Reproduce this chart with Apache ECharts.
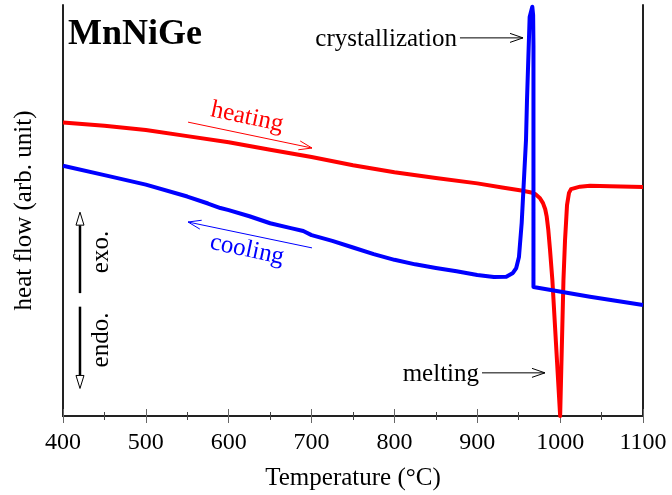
<!DOCTYPE html>
<html>
<head>
<meta charset="utf-8">
<script src="https://cdn.jsdelivr.net/npm/echarts@6/dist/echarts.min.js"></script>
<style>
  html, body { margin: 0; padding: 0; background: #fff; }
  #chart { width: 672px; height: 495px; }
</style>
</head>
<body>
<div id="chart"></div>
<script>
// DSC traces of MnNiGe (heat flow in arbitrary units, 0..100)
const heatingTemp = [400, 450, 500, 550, 600, 650, 700, 750, 800, 850, 900, 930, 955, 965, 970,
  975.7, 979.3, 982, 983.8, 985.7, 987.8, 990.6, 1000, 1004, 1005.9, 1007.1, 1008.3, 1010.7,
  1013.1, 1015.5, 1024, 1036, 1060, 1100];
const heatingFlow = [71.4, 70.6, 69.6, 68.1, 66.6, 64.8, 63.0, 61.0, 59.3, 57.9, 56.6, 55.6, 54.8, 54.4, 54.0,
  53.0, 51.8, 50.3, 48.5, 45.3, 40.4, 33.1, 0, 33.1, 42.8, 47.0, 51.3, 54.3,
  55.2, 55.5, 55.8, 56.0, 55.9, 55.7];

// cooling run, recorded from high to low temperature
const coolingTemp = [1100, 1036, 967.8, 967.8, 967.4, 966.4, 965.6, 964.6, 963.2, 960, 958.8,
  953.6, 950.3, 947, 943, 935, 920, 900, 875, 850, 825, 800, 775, 750, 725, 700, 690, 675,
  650, 625, 600, 590, 575, 550, 500, 450, 400];
const coolingFlow = [27.0, 29.0, 31.4, 90.0, 97.5, 99.6, 100, 99.2, 97.1, 76.9, 67.2,
  47.0, 38.7, 36.0, 34.8, 33.9, 33.8, 34.3, 35.2, 36.0, 36.9, 38.0, 39.4, 41.0, 42.6, 44.0, 45.0, 45.7,
  46.9, 48.6, 50.1, 50.6, 51.7, 53.4, 56.3, 58.6, 60.9];

const tempTicks = [400, 500, 600, 700, 800, 900, 1000, 1100];

const SERIF = '"Liberation Serif", "DejaVu Serif", serif';

const zip = (xs, ys) => xs.map((x, i) => [x, ys[i]]);

const chart = echarts.init(document.getElementById('chart'), null, { renderer: 'canvas' });

const axisLine = { show: true, lineStyle: { color: '#222', width: 2 } };
const ticks = { show: true, inside: true, length: 7, lineStyle: { color: '#666', width: 1 } };
const minor = { show: true, splitNumber: 2, length: 4, lineStyle: { color: '#444', width: 1 } };

chart.setOption({
  animation: false,
  backgroundColor: '#fff',
  grid: { left: 63, right: 29, top: 5, bottom: 79, containLabel: false, outerBoundsMode: 'none' },
  xAxis: [
    {
      type: 'value', position: 'bottom',
      min: tempTicks[0], max: tempTicks[tempTicks.length - 1], interval: 100,
      axisLine: axisLine, axisTick: ticks, minorTick: minor,
      splitLine: { show: false }, minorSplitLine: { show: false },
      axisLabel: { fontFamily: SERIF, fontSize: 24, color: '#000', margin: 15,
        formatter: (v) => String(v) },
      name: 'Temperature (°C)', nameLocation: 'middle', nameGap: 50,
      nameTextStyle: { fontFamily: SERIF, fontSize: 25, color: '#000' }
    },
    {
      type: 'value', position: 'top',
      min: tempTicks[0], max: tempTicks[tempTicks.length - 1], interval: 100,
      axisLine: axisLine, axisTick: ticks, minorTick: minor,
      splitLine: { show: false }, minorSplitLine: { show: false },
      axisLabel: { show: false }
    }
  ],
  yAxis: [
    {
      type: 'value', position: 'left', min: 0, max: 100,
      axisLine: axisLine, axisTick: { show: false }, axisLabel: { show: false },
      splitLine: { show: false },
      name: 'heat flow (arb. unit)', nameLocation: 'middle', nameGap: 26, nameRotate: 90,
      nameTextStyle: { fontFamily: SERIF, fontSize: 25, color: '#000' }
    },
    {
      type: 'value', position: 'right', min: 0, max: 100,
      axisLine: axisLine, axisTick: { show: false }, axisLabel: { show: false },
      splitLine: { show: false }
    }
  ],
  series: [
    {
      name: 'heating', type: 'line', xAxisIndex: 0, yAxisIndex: 0,
      data: zip(heatingTemp, heatingFlow), showSymbol: false, clip: false,
      lineStyle: { color: '#ff0000', width: 4, join: 'round' }, z: 3
    },
    {
      name: 'cooling', type: 'line', xAxisIndex: 0, yAxisIndex: 0,
      data: zip(coolingTemp, coolingFlow), showSymbol: false, clip: false,
      lineStyle: { color: '#0000ff', width: 4, join: 'round' }, z: 4
    }
  ]
});

// annotation anchors, in data units (temperature, heat flow)
const toPx = (p) => chart.convertToPixel({ gridIndex: 0 }, p);

function openArrow(from, to, color, width, len, half) {
  const a = toPx(from), b = toPx(to);
  const dx = b[0] - a[0], dy = b[1] - a[1];
  const d = Math.hypot(dx, dy), ux = dx / d, uy = dy / d;
  const nx = -uy, ny = ux;
  return [
    { type: 'line', shape: { x1: a[0], y1: a[1], x2: b[0], y2: b[1] },
      style: { stroke: color, lineWidth: width } },
    { type: 'polyline', shape: { points: [
        [b[0] - ux * len + nx * half, b[1] - uy * len + ny * half],
        [b[0], b[1]],
        [b[0] - ux * len - nx * half, b[1] - uy * len - ny * half]] },
      style: { stroke: color, lineWidth: width, fill: null } }
  ];
}

function hollowArrow(from, to) {
  const a = toPx(from), b = toPx(to);
  const dir = Math.sign(b[1] - a[1]);
  const headLen = 13, half = 4;
  const baseY = b[1] - dir * headLen;
  return [
    { type: 'line', shape: { x1: a[0], y1: a[1], x2: b[0], y2: baseY },
      style: { stroke: '#000', lineWidth: 2.5 } },
    { type: 'polygon', shape: { points: [[b[0], b[1]], [b[0] - half, baseY], [b[0] + half, baseY]] },
      style: { stroke: '#000', lineWidth: 1, fill: '#fff' } }
  ];
}

function label(text, at, opts) {
  const p = toPx(at);
  return {
    type: 'text', x: p[0], y: p[1], rotation: opts.rotation || 0, z: 10,
    style: {
      text: text, fill: opts.color || '#000',
      font: (opts.weight || 'normal') + ' ' + (opts.size || 25) + 'px ' + SERIF,
      align: opts.align || 'center', verticalAlign: 'middle'
    }
  };
}

const tilt = -12 * Math.PI / 180;
const vertical = Math.PI / 2;

const graphics = [].concat(
  [label('MnNiGe', [406, 92.7], { weight: 'bold', size: 36, align: 'left' })],
  [label('crystallization', [875.5, 91.5], { align: 'right' })],
  openArrow([879.1, 92.0], [955.2, 92.0], '#000', 1, 13, 4.5),
  [label('melting', [902.1, 10.0], { align: 'right' })],
  openArrow([905.7, 10.5], [981.7, 10.5], '#000', 1, 13, 4.5),
  [label('heating', [622.1, 72.7], { color: '#ff0000', rotation: tilt })],
  openArrow([550.9, 71.5], [700.5, 65.2], '#ff0000', 1, 13, 4.5),
  [label('cooling', [622.1, 40.4], { color: '#0000ff', rotation: tilt })],
  openArrow([700.5, 40.9], [550.9, 47.2], '#0000ff', 1, 13, 4.5),
  hollowArrow([420.5, 29.9], [420.5, 49.6]),
  hollowArrow([420.5, 26.6], [420.5, 6.7]),
  [label('exo.', [446.5, 39.9], { rotation: vertical })],
  [label('endo.', [446.5, 18.5], { rotation: vertical })]
);

chart.setOption({ graphic: { elements: graphics } });
</script>
</body>
</html>
